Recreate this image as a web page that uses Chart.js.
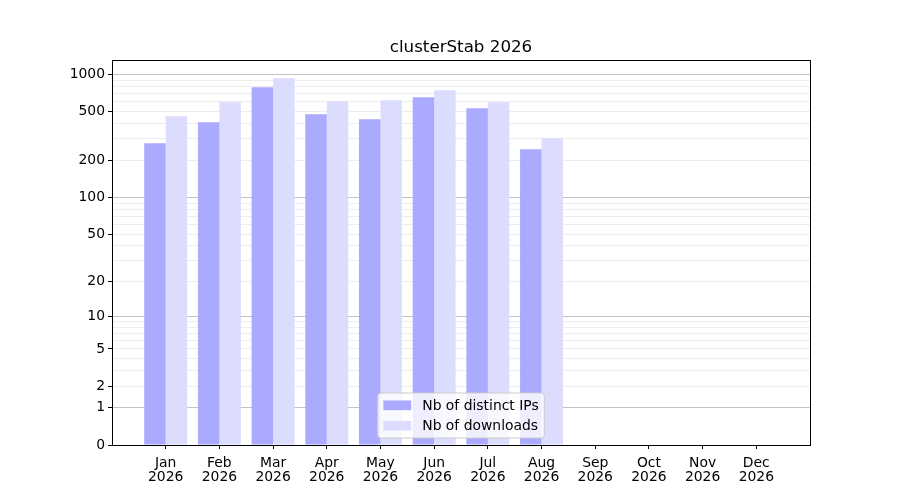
<!DOCTYPE html>
<html>
<head>
<meta charset="utf-8">
<script src="https://cdn.jsdelivr.net/npm/chart.js@4.4.1/dist/chart.umd.min.js"></script>
<style>
	html, body { margin: 0; padding: 0; background: #fff; }
	#wrap { width: 900px; height: 500px; }
</style>
</head>
<body>
<div id="wrap"><canvas id="chart" width="900" height="500"></canvas></div>
<script>
	// Data
	var months = ['Jan', 'Feb', 'Mar', 'Apr', 'May', 'Jun', 'Jul', 'Aug', 'Sep', 'Oct', 'Nov', 'Dec'];
	var year = '2026';
	var title = 'clusterStab ' + year;
	var distinctIps = [277, 410, 788, 476, 434, 654, 533, 248];
	var downloads = [459, 596, 932, 607, 618, 746, 596, 304];
	var yTickLabels = [0, 1, 2, 5, 10, 20, 50, 100, 200, 500, 1000];
	var yMajorGrid = [1, 10, 100, 1000];

	// grid lines at 1..9, 10..90, 100..900, 1000
	var yGrid = [0];
	[1, 10, 100].forEach(function (d) {
		for (var k = 1; k < 10; k++) yGrid.push(k * d);
	});
	yGrid.push(1000);

	// log10(v + 1) scale
	var f = function (v) { return Math.log10(v + 1); };
	class Log1pScale extends Chart.LinearScale {
		configure() {
			super.configure();
			this._fStart = f(this.min);
			this._fRange = f(this.max) - f(this.min);
		}
		buildTicks() {
			var self = this;
			return yGrid.filter(function (v) { return v >= self.min && v <= self.max; })
				.map(function (v) { return { value: v }; });
		}
		getPixelForValue(value) {
			if (value === null || value === undefined) return NaN;
			return this.getPixelForDecimal((f(value) - this._fStart) / this._fRange);
		}
		getValueForPixel(pixel) {
			return Math.pow(10, this._fStart + this.getDecimalForPixel(pixel) * this._fRange) - 1;
		}
	}
	Log1pScale.id = 'log1p';
	Log1pScale.defaults = Chart.LinearScale.defaults;
	Chart.register(Log1pScale);

	// 5% margin on top, in the transformed space
	var dataMax = Math.max.apply(null, distinctIps.concat(downloads));
	var yMax = Math.pow(10, f(dataMax) * 1.05) - 1;

	var FONT = 'DejaVu Sans';
	Chart.defaults.font.family = FONT;
	Chart.defaults.font.size = 13.9;
	Chart.defaults.color = '#000';

	// Title over the axes, frame, legend inside plot
	var framePlugin = {
		id: 'frameLegend',
		afterDraw: function (chart) {
			var c = chart.ctx, a = chart.chartArea;
			c.save();
			c.strokeStyle = '#000';
			c.lineWidth = 1;
			c.strokeRect(Math.round(a.left) + 0.5, Math.round(a.top) + 0.5,
				Math.round(a.right - a.left), Math.round(a.bottom - a.top));

			c.font = '16.7px ' + FONT;
			c.fillStyle = '#000';
			c.textAlign = 'center';
			c.textBaseline = 'alphabetic';
			c.fillText(title, (a.left + a.right) / 2, a.top - 8);

			var fs = 13.9, pad = 5.6, hl = 27.8, hh = 9.7, htp = 11.1, sp = 7, rowH = 13.4;
			c.font = fs + 'px ' + FONT;
			var sets = chart.data.datasets;
			var tw = 0;
			sets.forEach(function (ds) { tw = Math.max(tw, c.measureText(ds.label).width); });
			var w = pad * 2 + hl + htp + tw;
			var h = pad * 2 + rowH * sets.length + sp * (sets.length - 1);
			var x0 = (a.left + a.right) / 2 - w / 2;
			var y0 = a.bottom - 7 - h;
			c.beginPath();
			c.roundRect(x0, y0, w, h, 3);
			c.fillStyle = 'rgba(255,255,255,0.8)';
			c.fill();
			c.strokeStyle = '#cccccc';
			c.stroke();
			c.textBaseline = 'middle';
			c.textAlign = 'left';
			sets.forEach(function (ds, i) {
				var cy = y0 + pad + rowH / 2 + i * (rowH + sp);
				c.fillStyle = ds.backgroundColor;
				c.fillRect(x0 + pad, cy - hh / 2, hl, hh);
				c.fillStyle = '#000';
				c.fillText(ds.label, x0 + pad + hl + htp, cy + 1);
			});
			c.restore();
		}
	};

	var ctx = document.getElementById('chart').getContext('2d');
	var myChart = new Chart(ctx, {
		type: 'bar',
		data: {
			datasets: [
				{
					label: 'Nb of distinct IPs',
					data: distinctIps.map(function (v, i) { return { x: i, y: v }; }),
					backgroundColor: '#aaaaff',
				},
				{
					label: 'Nb of downloads',
					data: downloads.map(function (v, i) { return { x: i, y: v }; }),
					backgroundColor: '#dcdcff',
				},
			],
		},
		options: {
			responsive: false,
			animation: false,
			events: [],
			datasets: {
				bar: { barPercentage: 1.0, categoryPercentage: 0.8 },
			},
			layout: { padding: { left: 0, right: 90, top: 60, bottom: 0 } },
			plugins: {
				legend: { display: false },
				tooltip: { enabled: false },
				title: { display: false },
			},
			scales: {
				x: {
					type: 'linear',
					min: -1,
					max: 12,
					offset: false,
					afterBuildTicks: function (scale) {
						scale.ticks = months.map(function (m, i) { return { value: i }; });
					},
					afterFit: function (scale) { scale.height = 55; },
					ticks: {
						autoSkip: false,
						maxRotation: 0,
						padding: 7,
						font: { lineHeight: 1.02 },
						callback: function (v) { return [months[v], year]; },
					},
					grid: {
						offset: false,
						drawOnChartArea: false,
						tickLength: 4,
						tickColor: '#000',
					},
					border: { display: false },
				},
				y: {
					type: 'log1p',
					min: 0,
					max: yMax,
					z: 1,
					afterFit: function (scale) { scale.width = 112; },
					ticks: {
						autoSkip: false,
						padding: 3,
						callback: function (v) {
							return yTickLabels.indexOf(v) >= 0 ? String(v) : '';
						},
					},
					grid: {
						lineWidth: 1,
						tickLength: 4,
						color: function (c) {
							var v = c.tick ? c.tick.value : null;
							if (v === 0) return 'rgba(0,0,0,0)';
							return yMajorGrid.indexOf(v) >= 0 ? 'rgba(0,0,0,0.24)' : 'rgba(0,0,0,0.07)';
						},
						tickColor: function (c) {
							var v = c.tick ? c.tick.value : null;
							return yTickLabels.indexOf(v) >= 0 ? '#000' : 'rgba(0,0,0,0)';
						},
					},
					border: { display: false },
				},
			},
		},
		plugins: [framePlugin],
	});
</script>
</body>
</html>
